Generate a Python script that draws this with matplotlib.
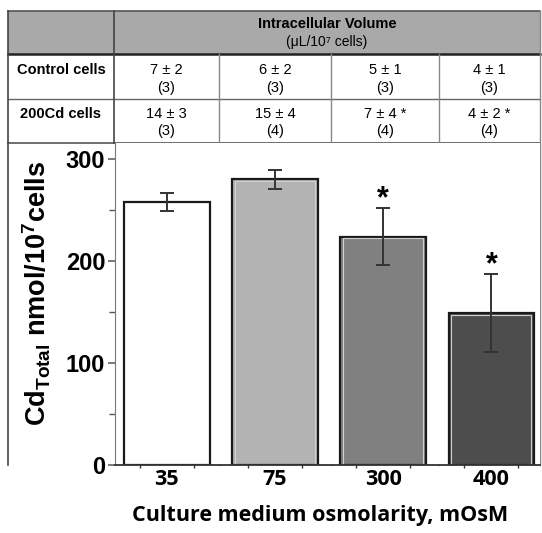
import matplotlib
matplotlib.use("Agg")
import matplotlib.pyplot as plt
from matplotlib.patches import Rectangle
from matplotlib.ticker import FixedLocator

plt.rcParams['font.family'] = ['Liberation Sans', 'DejaVu Sans']
plt.rcParams['mathtext.fontset'] = 'custom'
plt.rcParams['mathtext.rm'] = 'Liberation Sans:bold'
plt.rcParams['mathtext.bf'] = 'Liberation Sans:bold'

# data
osmolarity = ["35", "75", "300", "400"]
cd_total = [258, 280, 224, 149]
cd_err = [9, 9, 28, 38]
significant = [False, False, True, True]
bar_colors = ["#ffffff", "#b3b3b3", "#808080", "#4d4d4d"]

row_labels = ["Control cells", "200Cd cells"]
vol_control = ["7 \u00b1 2", "6 \u00b1 2", "5 \u00b1 1", "4 \u00b1 1"]
n_control = ["(3)", "(3)", "(3)", "(3)"]
vol_cd = ["14 \u00b1 3", "15 \u00b1 4", "7 \u00b1 4 *", "4 \u00b1 2 *"]
n_cd = ["(3)", "(4)", "(4)", "(4)"]

W, H = 542, 533
fig = plt.figure(figsize=(W / 100, H / 100), dpi=100)

# main bar axes (pixel layout)
x0, x1, ytop, ybot = 115, 540, 143, 465
ax = fig.add_axes([x0 / W, (H - ybot) / H, (x1 - x0) / W, (ybot - ytop) / H])
pos = list(range(len(cd_total)))
ax.bar(pos, cd_total, width=0.79, color=bar_colors, edgecolor="#1a1a1a",
       linewidth=1.6, zorder=2)
# faint inner rim seen on the shaded bars
ax.bar(pos[1:], [v - 1.5 for v in cd_total[1:]], width=0.74, color="none",
       edgecolor="#d0d0d0", linewidth=0.8, zorder=2)
ax.errorbar(pos, cd_total, yerr=cd_err, fmt="none", ecolor="#333333",
            elinewidth=1.4, capsize=5, capthick=1.4, zorder=3)
for p, v, e, s in zip(pos, cd_total, cd_err, significant):
    if s:
        ax.text(p, v + e + 9, "*", ha="center", va="center", fontsize=22,
                fontweight="bold")

ax.set_xlim(-0.48, 3.45)
ax.set_ylim(0, 315.7)
ax.set_yticks([0, 100, 200, 300])
ax.yaxis.set_minor_locator(FixedLocator([50, 150, 250]))
ax.set_xticks(pos)
ax.set_xticklabels(osmolarity, fontsize=15.5, fontweight="bold",
                   family=["Open Sans", "DejaVu Sans"])
ax.xaxis.set_minor_locator(FixedLocator([p + d for p in pos for d in (-0.25, 0.25)]))
for lab in ax.get_yticklabels():
    lab.set_fontsize(17)
    lab.set_fontweight("bold")
ax.tick_params(axis="y", which="major", length=5, width=1.1, color="#555555", pad=2)
ax.tick_params(axis="y", which="minor", length=4, width=1.0, color="#555555")
ax.tick_params(axis="x", which="major", length=0, pad=3)
ax.tick_params(axis="x", which="minor", length=5, width=1.0, direction="inout",
               color="#333333")
for sp in ["top", "right"]:
    ax.spines[sp].set_visible(False)
ax.spines["left"].set_color("#777777")
ax.spines["bottom"].set_color("#333333")
ax.spines["bottom"].set_linewidth(1.3)

ax.set_ylabel(r"Cd$_{\mathrm{Total}}$ nmol/10$^{\mathrm{7}}$cells", fontsize=19.5,
              fontweight="bold")
ax.yaxis.set_label_coords(-0.145, 0.534)
ax.set_xlabel("Culture medium osmolarity, mOsM", fontsize=15.5, fontweight="bold",
              family=["Open Sans", "DejaVu Sans"], labelpad=6)
ax.xaxis.set_label_coords(0.483, -0.125)

# overlay for the table (pixel coordinates)
ov = fig.add_axes([0, 0, 1, 1], zorder=-1)
ov.set_xlim(0, W)
ov.set_ylim(H, 0)
ov.axis("off")

tl, tt, hb, rd, tb = 8, 11, 54, 99, 143
cols = [114, 219, 331, 439, 540]
ov.add_patch(Rectangle((tl, tt), cols[-1] - tl, hb - tt, facecolor="#a9a9a9",
                       edgecolor="none"))
ov.plot([tl, cols[-1]], [tt, tt], color="#555555", lw=1.2)
ov.plot([tl, cols[-1]], [hb, hb], color="#222222", lw=1.8)
ov.plot([tl, cols[-1]], [rd, rd], color="#666666", lw=1.0)
ov.plot([tl, cols[-1]], [tb, tb], color="#555555", lw=1.2)
ov.plot([tl, tl], [tt, ybot], color="#444444", lw=1.2)
ov.plot([cols[0], cols[0]], [tt, tb], color="#444444", lw=1.2)
for c in cols[1:]:
    ov.plot([c, c], [hb if c != cols[-1] else tt, ybot], color="#888888", lw=1.0)

hx = (cols[0] + cols[-1]) / 2
ov.text(hx, 24, "Intracellular Volume", ha="center", va="center", fontsize=10.5,
        fontweight="bold")
ov.text(hx, 42, "(\u03bcL/10\u2077 cells)", ha="center", va="center", fontsize=10)

centers = [(cols[i] + cols[i + 1]) / 2 for i in range(4)]
lx = (tl + cols[0]) / 2
ov.text(lx, 70, row_labels[0], ha="center", va="center", fontsize=10.5,
        fontweight="bold")
ov.text(lx, 114, row_labels[1], ha="center", va="center", fontsize=10.5,
        fontweight="bold")
for cx, a, b, c, d in zip(centers, vol_control, n_control, vol_cd, n_cd):
    ov.text(cx, 70, a, ha="center", va="center", fontsize=10.5)
    ov.text(cx, 88, b, ha="center", va="center", fontsize=10.5)
    ov.text(cx, 114, c, ha="center", va="center", fontsize=10.5)
    ov.text(cx, 131, d, ha="center", va="center", fontsize=10.5)

fig.savefig("out.png", dpi=100)
